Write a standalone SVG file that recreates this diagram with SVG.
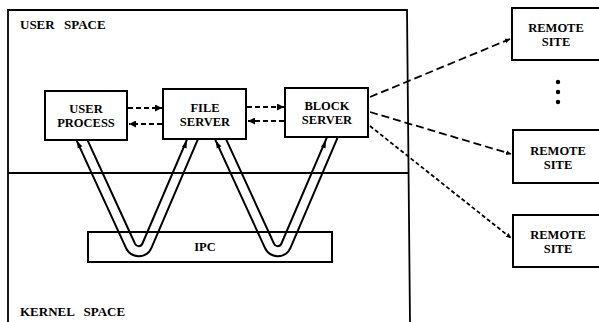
<svg xmlns="http://www.w3.org/2000/svg" width="599" height="322" viewBox="0 0 599 322">
<style>
.box{fill:#fff;stroke:#000;stroke-width:2}
.t{font-family:"Liberation Serif","DejaVu Serif","Times New Roman",serif;font-weight:bold;font-size:12.5px;fill:#000;text-anchor:middle}
.lbl{font-family:"Liberation Serif","DejaVu Serif","Times New Roman",serif;font-weight:bold;font-size:13px;fill:#000;word-spacing:6px}
.frame{stroke:#000;stroke-width:1.8;fill:none}
.tubeo{fill:none;stroke:#000;stroke-width:12;stroke-linejoin:round}
.tubei{fill:none;stroke:#fff;stroke-width:8;stroke-linejoin:round}
.dash{stroke:#000;stroke-width:1.8;fill:none;stroke-dasharray:5 3}
.rdash{stroke:#000;stroke-width:1.8;fill:none;stroke-dasharray:8 4}
.rdot{stroke:#000;stroke-width:1.8;fill:none;stroke-dasharray:4 2.5}
</style>
<defs>
<marker id="ah" markerUnits="userSpaceOnUse" markerWidth="8" markerHeight="7" refX="7" refY="3.5" orient="auto">
<path d="M0,0 L7,3.5 L0,7 z" fill="#000"/>
</marker>
<marker id="ahs" markerUnits="userSpaceOnUse" markerWidth="6" markerHeight="6" refX="5" refY="2.5" orient="auto">
<path d="M0,0 L5,2.5 L0,5 z" fill="#000"/>
</marker>
</defs>

<g id="user-space">
<path class="frame" d="M8,322 L8,10 L407,10 L410,322"/>
<text class="lbl" x="20" y="29">USER SPACE</text>
</g>

<g id="ipc-tubes">
<path class="tubeo" d="M80.1,136 L130.6,246.1 A9,9 0 0 0 146.9,245.8 L193.9,136"/>
<path class="tubei" d="M80.1,136 L130.6,246.1 A9,9 0 0 0 146.9,245.8 L193.9,136"/>
<path class="tubeo" d="M219.1,136 L269.6,246.1 A9,9 0 0 0 285.9,245.8 L332.9,136"/>
<path class="tubei" d="M219.1,136 L269.6,246.1 A9,9 0 0 0 285.9,245.8 L332.9,136"/>
</g>

<g id="kernel-space">
<line class="frame" x1="8" y1="173" x2="408" y2="173"/>
<text class="lbl" x="20" y="316">KERNEL SPACE</text>
</g>

<g id="ipc">
<rect x="88" y="232" width="244" height="30" fill="none" stroke="#000" stroke-width="2"/>
<text class="t" x="205" y="251">IPC</text>
</g>

<g id="user-process">
<rect class="box" x="45" y="91" width="82" height="49"/>
<text class="t" x="86" y="112.5">USER</text>
<text class="t" x="86" y="126.5">PROCESS</text>
</g>

<g id="file-server">
<rect class="box" x="163" y="89" width="83" height="50"/>
<text class="t" x="205" y="111.5">FILE</text>
<text class="t" x="205" y="125.5">SERVER</text>
</g>

<g id="block-server">
<rect class="box" x="285" y="88" width="83" height="49"/>
<text class="t" x="327" y="109.5">BLOCK</text>
<text class="t" x="327" y="123.5">SERVER</text>
</g>

<g id="remote-site-1">
<rect class="box" x="512" y="8" width="92" height="52"/>
<text class="t" x="556" y="31.5">REMOTE</text>
<text class="t" x="556" y="45.5">SITE</text>
</g>

<g id="ellipsis">
<circle cx="558" cy="82" r="2.2" fill="#000"/>
<circle cx="558" cy="92" r="2.2" fill="#000"/>
<circle cx="558" cy="102" r="2.2" fill="#000"/>
</g>

<g id="remote-site-2">
<rect class="box" x="513" y="130" width="92" height="53"/>
<text class="t" x="558" y="154.5">REMOTE</text>
<text class="t" x="558" y="168.5">SITE</text>
</g>

<g id="remote-site-3">
<rect class="box" x="513" y="215" width="92" height="52"/>
<text class="t" x="558" y="238.5">REMOTE</text>
<text class="t" x="558" y="252.5">SITE</text>
</g>

<g id="connectors">
<polygon points="77,141 82.3,146.2 77.7,148.4" fill="#000"/>
<polygon points="187,141 186.5,148.4 181.9,146.4" fill="#000"/>
<polygon points="216,141 221.3,146.2 216.7,148.4" fill="#000"/>
<polygon points="326,141 325.5,148.4 320.9,146.4" fill="#000"/>
<line class="dash" x1="128" y1="108" x2="162" y2="108" marker-end="url(#ah)"/>
<line class="dash" x1="162" y1="124" x2="129" y2="124" marker-end="url(#ah)"/>
<line class="dash" x1="247" y1="107" x2="284" y2="107" marker-end="url(#ah)"/>
<line class="dash" x1="284" y1="121" x2="248" y2="121" marker-end="url(#ah)"/>
<line class="rdash" x1="370" y1="97" x2="510" y2="39" marker-end="url(#ahs)"/>
<line class="rdash" x1="370" y1="112" x2="511" y2="154" marker-end="url(#ahs)"/>
<line class="rdot" x1="370" y1="126" x2="511" y2="238" marker-end="url(#ahs)"/>
</g>
</svg>
